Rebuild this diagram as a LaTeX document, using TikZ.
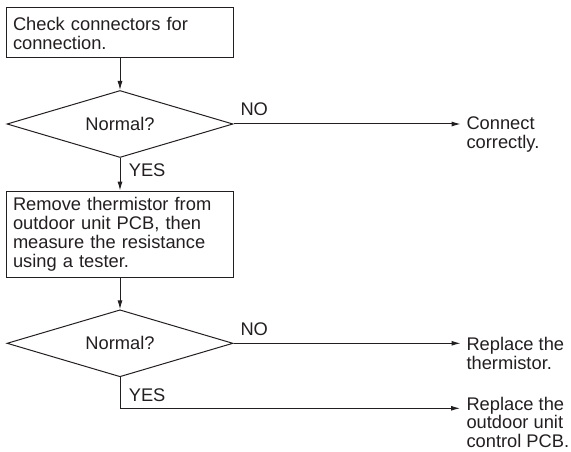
\documentclass[tikz,border=0pt]{standalone}
\usepackage{fontspec}
\setmainfont{Liberation Sans}
\usetikzlibrary{shapes.geometric,arrows.meta}
\definecolor{ink}{HTML}{231F20}
\begin{document}
\begin{tikzpicture}[x=1pt,y=-1pt, line width=1pt, draw=ink, text=ink,
  font=\fontsize{18.3}{19}\selectfont,
  box/.style={draw, rectangle, minimum width=227pt, minimum height=#1, inner sep=0pt, text width=214pt, align=left},
  dec/.style={draw, diamond, minimum width=226pt, minimum height=67pt, inner sep=0pt, shape aspect=3.37},
  outtext/.style={anchor=north west, align=left, inner sep=0pt},
  lbl/.style={inner sep=0pt, anchor=base west},
  arr/.style={-{Latex[length=9pt,width=5pt]}}]
\useasboundingbox (0,0) rectangle (571,452);
\node[box=50pt] (b1) at (120,33) {Check connectors for\\connection.};
\node[dec] (d1) at (120,124) {Normal?};
\node[box=86pt] (b2) at (120,234) {Remove thermistor from\\outdoor unit PCB, then\\measure the resistance\\using a tester.};
\node[dec] (d2) at (120,343.3) {Normal?};
\node[outtext] (o1) at (466,116.5) {Connect\\correctly.};
\node[outtext] (o2) at (466,336.5) {Replace the\\thermistor.};
\node[outtext, font=\fontsize{18.3}{18.5}\selectfont] (o3) at (466,396.5) {Replace the\\outdoor unit\\control PCB.};
\path (d1.east) ++(227,0) coordinate (c1);
\path (d2.east) ++(227,0) coordinate (c2);
\coordinate (c3) at (460,408.3);
\draw[arr] (b1.south) -- (d1.north);
\draw[arr] (d1.south) -- (b2.north);
\draw[arr] (b2.south) -- (d2.north);
\draw[arr] (d1.east) -- (c1);
\draw[arr] (d2.east) -- (c2);
\draw[arr] (d2.south) |- (c3);
\node[lbl] (no1) at (240,116) {NO};
\node[lbl] (yes1) at (128.3,176.7) {YES};
\node[lbl] (no2) at (240,335) {NO};
\node[lbl] (yes2) at (128.3,401) {YES};
\end{tikzpicture}
\end{document}
